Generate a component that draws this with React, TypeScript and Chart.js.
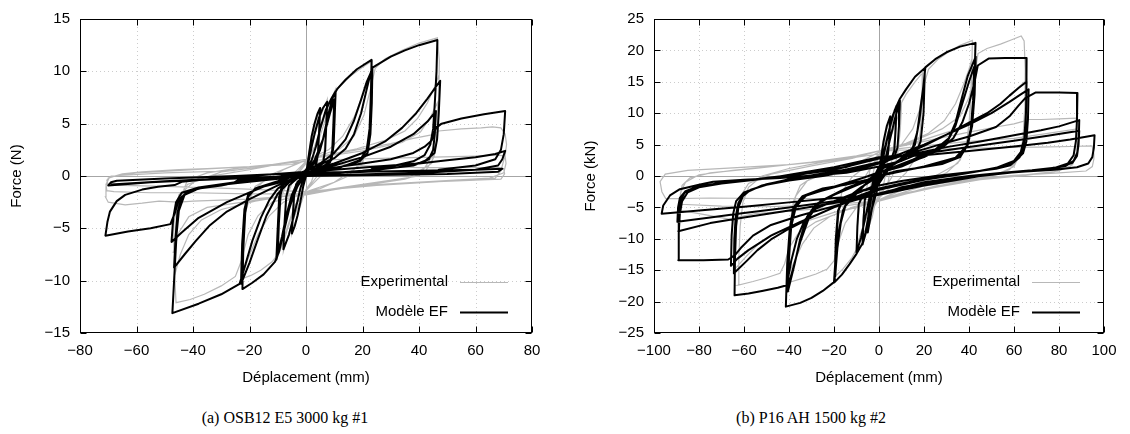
import React, { useEffect, useRef } from "react";
import { Chart, registerables } from "chart.js";

Chart.register(...registerables);

type Pt = [number, number];

const seriesLabels = ["Experimental", "Modèle EF"];
const captions = ["(a) OSB12 E5 3000 kg #1", "(b) P16 AH 1500 kg #2"];
const xTitle = "Déplacement (mm)";
const yTitles = ["Force (N)", "Force (kN)"];

const osbXTicks = [-80, -60, -40, -20, 0, 20, 40, 60, 80];
const osbYTicks = [-15, -10, -5, 0, 5, 10, 15];
const p16XTicks = [-100, -80, -60, -40, -20, 0, 20, 40, 60, 80, 100];
const p16YTicks = [-25, -20, -15, -10, -5, 0, 5, 10, 15, 20, 25];

// (a) OSB12 E5 3000 kg #1 — finite element model
const osbModel: Pt[] = [
  [0, 0], [1, 2], [2, 3.8], [3, 5], [4, 5.9], [5, 6.5],
  [4.6, 4], [4.2, 2], [3.5, 1], [1.5, 0.4], [0, 0],
  [-1, -1], [-2, -2.5], [-3, -3.8], [-4, -4.8], [-5, -5.5],
  [-4.6, -3.5], [-4.2, -1.8], [-3.5, -0.8], [-1.5, -0.1], [0, 0.4],
  [1, 1.5], [2, 2.8], [3, 4], [4.5, 5.5], [6, 6.5], [7.5, 7.1],
  [7.2, 5], [6.8, 2.5], [6, 1.2], [3, 0.6], [0, 0.3], [-1, -0.3], [-2, -1.2], [-3, -2.4], [-4.5, -4], [-6, -5.6], [-8, -7],
  [-7.6, -4.5], [-7, -2], [-6, -0.9], [-3, -0.2], [0, 0.6],
  [2, 1.5], [3.5, 2.8], [5, 4.5], [7, 6.3], [9, 7.4], [10.5, 8.1],
  [10.2, 6], [9.8, 3], [9, 1.5], [6, 0.9], [2, 0.5], [0, 0.2], [-2, -0.4], [-4, -1.5], [-6, -3.2], [-8, -5.5], [-10.5, -8],
  [-10, -5], [-9.5, -2], [-8.5, -0.9], [-5, -0.3], [0, 0.5],
  [3, 1.2], [5, 2.5], [7, 4.5], [8.5, 6], [10, 7.3],
  [9.7, 5], [9.3, 2.5], [8.5, 1.3], [5, 0.8], [0, 0.3], [-3, -0.6], [-5, -1.8], [-7, -3.8], [-8.5, -5.8], [-10, -7.4],
  [-9.6, -4.5], [-9, -1.8], [-8, -0.8], [-4, -0.2], [0, 0.5],
  [3, 1.5], [6, 3.5], [8, 6], [9.5, 7.5], [11, 8.3], [14, 9.2], [18, 10.2], [23.2, 11.1],
  [23, 8], [22.5, 4.5], [21.5, 2.5], [19, 1.5], [12, 0.8], [5, 0.5], [0, 0.3],
  [-3, -1], [-6, -3], [-8, -5.5], [-9.5, -7.2], [-11, -8.2], [-15, -9.4], [-19, -10.2], [-22.5, -10.8],
  [-22.2, -7], [-21.5, -3.5], [-20.5, -2], [-18, -1.2], [-10, -0.5], [0, 0.5],
  [5, 1.2], [10, 2.2], [14, 3.5], [17, 5.3], [19.5, 7.3], [21.5, 9], [23.5, 10.2],
  [23.3, 7], [22.8, 4], [21.8, 2.2], [19, 1.4], [10, 0.7], [0, 0.3], [-6, -0.6], [-10, -1.7], [-14, -3.8], [-17, -6], [-20, -8.3], [-23, -10.3],
  [-22.6, -6.5], [-21.8, -3.2], [-20.5, -1.8], [-17, -1.1], [-8, -0.4], [0, 0.5],
  [5, 1.1], [10, 1.7], [14, 2.6], [17, 4], [19.5, 6], [21.5, 8.3], [23.3, 10.3], [25, 10.6], [30, 11.4], [35, 12], [40, 12.5], [46.5, 13],
  [46.2, 10], [45.6, 7], [45, 4.5], [44, 3], [42, 2], [38, 1.4], [30, 0.9], [24, 0.8], [22, 0.4], [10, 0.3], [0, 0.2],
  [-5, -0.3], [-10, -1.2], [-13, -2.3], [-16, -4], [-19, -6.2], [-21.5, -8.5], [-23.5, -10.3], [-30, -11.3], [-38, -12.2], [-47.3, -13.1],
  [-46.5, -9], [-45.8, -5.5], [-45, -3.3], [-43, -1.8], [-38, -1.2], [-30, -0.9], [-26, -0.7], [-24, -0.4], [-10, -0.1], [0, 0.3],
  [5, 0.8], [10, 1.2], [20, 2.2], [28, 3.3], [34, 4.6], [39, 6], [43, 7.4], [47.5, 9.1],
  [47, 6], [46.4, 3.5], [45.5, 2.2], [42, 1.4], [35, 0.9], [20, 0.5], [0, 0.1],
  [-10, -0.9], [-20, -2.2], [-28, -3.4], [-34, -4.7], [-39, -6.2], [-43, -7.5], [-46.7, -8.75],
  [-46.2, -6], [-45.5, -3.5], [-44, -2], [-40, -1.3], [-30, -0.8], [-15, -0.3], [0, 0.3],
  [10, 1], [20, 1.8], [30, 2.8], [38, 4], [43, 5.2], [46, 6.2],
  [45.6, 4], [45, 2.5], [43.5, 1.6], [38, 1], [25, 0.6], [0, 0], [-15, -1], [-28, -2.5], [-38, -4], [-44, -5.4], [-47.6, -6.3],
  [-47, -4], [-46, -2.5], [-44, -1.6], [-38, -1.1], [-25, -0.6], [0, 0.3],
  [10, 0.8], [20, 1.2], [30, 1.6], [38, 2.2], [42, 2.8], [44.5, 3.4], [46, 4.6], [48, 5], [55, 5.5], [63, 5.9], [70.5, 6.2],
  [70, 4], [69, 2.5], [67, 1.6], [60, 1], [50, 0.7], [47, 0.6], [45, 0.2], [25, 0.1], [0, 0],
  [-15, -0.4], [-25, -0.7], [-35, -1], [-42, -1.5], [-45, -2.3], [-46.5, -3.6], [-48, -4.6], [-55, -5], [-63, -5.3], [-71, -5.7],
  [-70.3, -4.4], [-69.4, -3.4], [-67, -2.4], [-64, -1.8], [-58, -1.3], [-52.4, -1.03], [-46.5, -0.87], [-44, -0.56], [-35, -0.3], [-20, 0], [0, 0.4],
  [10, 0.6], [25, 0.9], [40, 1.2], [50, 1.5], [60, 1.8], [67, 2.1], [70.5, 2.4],
  [69.5, 1.6], [68, 1], [60, 0.6], [45, 0.35], [25, 0.2], [0, 0], [-20, -0.2], [-40, -0.4], [-55, -0.6], [-70, -0.9],
  [-69, -0.6], [-67, -0.45], [-50, -0.25], [-25, 0], [0, 0.3],
  [20, 0.4], [40, 0.5], [60, 0.6], [69.5, 0.7], [68, 0.4], [50, 0.2], [25, 0.1], [0, 0], [-25, -0.2], [-50, -0.5], [-69, -0.8],
];

// (a) OSB12 E5 3000 kg #1 — experimental
const osbExperimental: Pt[] = [
  [0, 0], [1, 2.2], [2, 3.6], [3.5, 5.3], [5, 6.3],
  [4.6, 3.5], [3.8, 1], [2, -0.5], [0, -1.3], [-1, -2], [-2.5, -3.3], [-4, -4.6], [-5, -5.5],
  [-4.6, -3.3], [-3.8, -1], [-2, 0.5], [0, 1.2], [1.5, 2.4], [3, 3.8], [5, 5.6], [7.5, 7.3],
  [7.1, 4.5], [6.3, 2], [4, 0], [0, -1.4], [-2, -2.3], [-4, -3.8], [-6, -5.4], [-8, -7.2],
  [-7.6, -4.5], [-6.8, -2], [-4, 0], [0, 1.4], [3, 2.8], [5.5, 4.8], [8, 6.8], [10.5, 8.3],
  [10.1, 5.2], [9.2, 2.4], [6, 0.2], [0, -1.4], [-3, -2.5], [-5.5, -4.2], [-8, -6.3], [-10.5, -8],
  [-10.1, -5], [-9.2, -2.3], [-6, -0.2], [0, 1.4],
  [4, 3], [7, 5.5], [9.5, 7.6], [12, 8.6], [16, 9.6], [20, 10.4], [23.5, 11],
  [23.2, 7.5], [22.6, 4.2], [21, 1.8], [15, 0], [5, -1.2], [0, -1.5], [-4, -2.8], [-7, -5.2], [-9.5, -7.3], [-12, -8.2], [-16, -9], [-19.5, -9.5], [-22.5, -9.8],
  [-22.2, -6.2], [-21.5, -3.6], [-19.5, -1.6], [-12, 0.2], [0, 1.5],
  [8, 2.5], [13, 3.8], [17, 5.6], [20.5, 8], [23.5, 10.3],
  [23.1, 6.8], [22.2, 3.6], [20, 1.2], [10, -0.6], [0, -1.5], [-8, -2.5], [-13, -3.8], [-17, -5.6], [-20.5, -7.9], [-23, -10],
  [-22.6, -6.3], [-21.6, -3.4], [-18, -1], [-8, 0.6], [0, 1.5],
  [12, 2.6], [17, 3.8], [20.5, 5.8], [23, 8.5], [24.5, 10.3], [28, 11.2], [34, 12], [40, 12.7], [46.5, 13.2],
  [47.2, 11], [47, 7.5], [46.6, 4.2], [45.3, 1.8], [42, 0.3], [35, -0.3], [25, -0.7], [12, -1.2], [0, -1.7],
  [-12, -2.5], [-17, -3.8], [-20.5, -5.6], [-23, -8.2], [-25, -9.6], [-30, -10.5], [-36, -11.3], [-41, -11.8], [-46, -12.1],
  [-46.5, -9.5], [-46.2, -6], [-45, -2.6], [-42, -0.4], [-35, 0.3], [-25, 0.7], [-12, 1.1], [0, 1.6],
  [18, 2.6], [28, 3.4], [35, 4.3], [39.5, 5.5], [43, 7], [45.5, 8.5], [47, 9.6],
  [47, 6.8], [46.5, 3.6], [44.5, 1.2], [36, -0.2], [20, -0.8], [0, -1.6],
  [-18, -2.4], [-30, -3.2], [-37, -4.2], [-41.5, -5.6], [-44.5, -7.5], [-46.5, -9.5],
  [-46.5, -6.6], [-45.6, -3.5], [-42, -0.8], [-30, 0.4], [-15, 0.9], [0, 1.6],
  [20, 2.4], [34, 3.2], [40.5, 4.2], [44, 5.6], [46.5, 7],
  [46.7, 4.6], [45.5, 2.2], [40, 0], [20, -0.8], [0, -1.6],
  [-20, -2.4], [-35, -3], [-41.5, -3.9], [-45, -5.4], [-47, -7.3],
  [-46.8, -4.6], [-45, -1.8], [-38, -0.2], [-20, 0.6], [0, 1.6],
  [10, 2.1], [20, 2.6], [30, 3.1], [38, 3.6], [44, 3.9], [47, 4.3], [55, 4.5], [62, 4.6], [66, 4.7], [69, 4.6],
  [70.5, 4], [71, 3], [70.5, 2], [69, 0.5], [67, -0.2], [60, -0.4], [40, -0.6], [20, -0.9], [10, -1.3], [0, -1.8],
  [-10, -2], [-20, -2.2], [-30, -2.3], [-40, -2.4], [-45, -2.5], [-52, -2.4], [-58, -2.6], [-64, -2.75], [-70, -2.5],
  [-71, -2], [-70.8, -1], [-70, -0.2], [-65, 0.2], [-58, 0.4], [-45, 0.6], [-35, 0.7], [-20, 0.9], [-5, 1.1], [0, 1.5],
  [15, 1.6], [30, 1.7], [45, 1.8], [60, 1.9], [68, 2], [70.5, 1.9],
  [70.8, 1.2], [70, 0.3], [65, -0.2], [45, -0.5], [20, -0.9], [0, -1.7],
  [-20, -1.7], [-40, -1.6], [-55, -1.6], [-68, -1.5], [-70.5, -1.4],
  [-70.8, -0.8], [-69.5, -0.1], [-60, 0.3], [-40, 0.6], [-20, 0.9], [0, 1.4],
  [20, 1], [40, 0.8], [60, 0.8], [68, 0.8], [70, 0.7],
  [70.3, 0.2], [69, -0.3], [50, -0.5], [25, -0.9], [0, -1.5],
  [-25, -1.2], [-50, -1], [-65, -0.9], [-70, -0.9], [-70.5, -0.4], [-69, 0], [-50, 0.3], [-25, 0.5],
];

// (b) P16 AH 1500 kg #2 — finite element model
const p16Model: Pt[] = [
  [0, 0], [1, 3], [2, 5.5], [3.5, 8], [5, 9.5],
  [4.6, 6], [4, 3.5], [2.5, 2.5], [0, 1.5], [-1, 0], [-2, -2.5], [-3.5, -6], [-5, -9],
  [-4.6, -5.5], [-4, -3], [-2.5, -2.2], [0, -1],
  [1, 1.5], [2.5, 4], [4, 6.5], [6, 9.5], [7.8, 11.2],
  [7.4, 7.5], [6.8, 4], [5.5, 2.8], [2, 2], [0, 1.5], [-1.5, 0], [-3, -2.5], [-4.5, -6], [-6, -9], [-7.3, -10.9],
  [-6.9, -7], [-6.3, -3.8], [-5, -2.8], [-2, -2.2], [0, -1.2],
  [1.5, 1], [3, 3], [5, 6], [7, 9], [9.3, 12],
  [8.9, 8], [8.2, 4.5], [7, 3.2], [3, 2.3], [0, 1.5], [-2, 0], [-4, -3], [-6, -6.5], [-8, -9.8], [-10, -12.2],
  [-9.6, -8], [-9, -4.5], [-7.5, -3.3], [-3, -2.4], [0, -1.2],
  [1, 2.5], [3, 5], [5, 8], [7, 10.5], [9.3, 12.3], [12, 13.8], [16, 15.8], [20.4, 17.2],
  [19.8, 10], [18.5, 5.5], [16, 3.3], [10, 2.4], [3, 1.8], [0, 1], [-1, -2.5], [-3, -5], [-5, -8], [-7, -10.5], [-10, -12.4], [-13, -14], [-16.5, -15.7], [-19.7, -16.9],
  [-19.2, -10], [-18.2, -5.5], [-16, -3.6], [-10, -2.6], [-3, -2], [0, -1.2],
  [3, 1], [10, 2.8], [15, 4.5], [17, 7], [18.5, 11], [19.8, 14.5], [20.3, 16.3],
  [19.8, 10], [18.5, 5.5], [16, 3.3], [10, 2.4], [0, 1], [-10, -2.8], [-15, -4.8], [-17, -7.5], [-18.5, -11.5], [-19.5, -16],
  [-19, -10], [-18, -5.5], [-16, -3.6], [-8, -2.5], [0, -1.2],
  [5, 1.5], [12, 3], [16, 5], [18, 9], [19.5, 13.5], [20.6, 17.3], [25, 18.6], [30, 19.7], [36, 20.6], [42.9, 21.2],
  [42.3, 14], [41.3, 8.5], [39.5, 5], [36, 3], [28, 1.9], [18, 1.3], [8, 0.8], [0, 0],
  [-8, -1.8], [-13, -3.2], [-16, -5.5], [-18, -9], [-19.3, -13], [-20, -16.9], [-25, -18.3], [-30, -19.4], [-35, -20.2], [-41.4, -20.8],
  [-40.8, -14], [-39.7, -8.5], [-38, -5], [-34, -3.2], [-25, -2], [-15, -1.4], [-5, -0.6], [0, 0.5],
  [5, 1.2], [15, 2.6], [25, 4.2], [31, 6], [34, 8.5], [36.5, 12], [39.5, 16], [43, 19],
  [42.5, 13], [41.4, 8], [39.5, 5], [35, 3], [25, 1.8], [10, 0.8], [0, 0],
  [-10, -1.5], [-20, -3], [-28, -4.5], [-32, -6.5], [-35, -10], [-37.5, -14], [-40.5, -18.4],
  [-40, -13], [-39, -8], [-37, -5], [-33, -3.2], [-20, -1.7], [0, 0.5],
  [10, 1.5], [22, 3.4], [30, 5.2], [34, 8], [37, 11.5], [40, 15], [42.3, 17.4],
  [41.8, 12], [40.8, 7.5], [39, 4.8], [34, 2.9], [20, 1.5], [0, 0],
  [-15, -2], [-26, -4], [-31, -6.5], [-35, -10.5], [-38, -14.5], [-40.5, -17.7],
  [-40, -12.5], [-39, -7.5], [-37, -4.8], [-32, -3], [-15, -1.3], [0, 0.6],
  [10, 1.8], [20, 3], [28, 4.5], [33, 6], [37, 8.5], [40, 11.5], [42.5, 15], [43.9, 17.6], [48.7, 18.7], [56, 18.8], [65.6, 18.8],
  [65.5, 13], [65.2, 8], [64.3, 4.5], [62.5, 3], [58.4, 1.7], [52, 1.15], [40, 0.6], [25, 0], [10, -0.8], [0, -1.5],
  [-10, -2.6], [-20, -4], [-28, -5.2], [-33, -7], [-36.5, -10], [-39, -13.5], [-41, -17.4], [-45, -17.8], [-52, -18.3], [-58, -18.7], [-64.2, -19],
  [-64, -13], [-63.5, -8], [-62.5, -5], [-60.5, -3.2], [-57, -2.2], [-50, -1.4], [-40, -0.7], [-25, 0], [-10, 1], [0, 2],
  [10, 3.2], [20, 4.8], [30, 6.6], [40, 8.5], [48, 10], [54, 11.5], [58, 12.8], [62, 14], [65.6, 15],
  [65.3, 10], [64.6, 6], [63, 3.8], [60, 2.4], [52, 1.3], [40, 0.5], [25, -0.2], [10, -1.2], [0, -2],
  [-10, -3.3], [-20, -5], [-30, -6.6], [-40, -8.4], [-48, -10.1], [-54, -11.8], [-59, -13.6], [-64.5, -15.5],
  [-64.3, -10], [-63.7, -6.5], [-62.5, -4.3], [-60, -2.8], [-52, -1.5], [-40, -0.5], [-25, 0.3], [-10, 1.3], [0, 2.2],
  [10, 3.6], [20, 5], [30, 6.6], [40, 8.2], [50, 10], [58, 11.8], [63, 13], [66.5, 13.8],
  [66.2, 9], [65.5, 5.5], [64, 3.6], [60, 2.2], [50, 1.1], [35, 0.2], [20, -0.6], [0, -2.2],
  [-20, -5], [-35, -7.3], [-48, -9.5], [-58, -11.8], [-63, -13.2], [-65.8, -14.3],
  [-65.5, -9.5], [-64.8, -6], [-63.5, -4], [-60, -2.6], [-50, -1.3], [-35, -0.2], [-15, 1], [0, 2.2],
  [10, 3.2], [25, 4.8], [40, 6.3], [52, 7.8], [58, 9.5], [62, 11.2], [65, 12.4], [69.7, 13.3], [80, 13.3], [88.2, 13.2],
  [88, 9], [87.5, 5.5], [86.5, 3.3], [84, 2], [78, 1.3], [68, 0.9], [55, 0.5], [40, 0], [20, -1], [0, -2.8],
  [-20, -4.8], [-35, -6.3], [-48, -7.8], [-56, -9.5], [-61, -11.3], [-64, -12.6], [-67, -13.3], [-78, -13.4], [-89.2, -13.4],
  [-89, -9], [-88.5, -6], [-87.5, -4], [-85, -2.6], [-80, -1.8], [-70, -1.2], [-55, -0.6], [-40, 0], [-20, 1], [0, 2.8],
  [15, 3.5], [30, 4.6], [45, 5.5], [60, 6.5], [72, 7.3], [80, 7.9], [89, 8.9],
  [88.8, 6], [88.2, 3.8], [86.5, 2.4], [83, 1.6], [75, 1.1], [60, 0.6], [40, -0.2], [20, -1.4], [0, -3],
  [-20, -4.3], [-40, -5.5], [-60, -6.6], [-75, -7.5], [-89.2, -8.8],
  [-89, -6], [-88.3, -4], [-86.5, -2.7], [-82, -1.8], [-72, -1.2], [-55, -0.5], [-35, 0.3], [-15, 1.4], [0, 3],
  [20, 3.6], [40, 4.6], [60, 5.6], [75, 6.4], [89, 7.2],
  [88.7, 5], [88, 3.2], [86, 2.1], [80, 1.4], [65, 0.8], [45, 0], [20, -1.5], [0, -3],
  [-20, -4], [-40, -5], [-60, -5.9], [-75, -6.6], [-89.6, -7.3],
  [-89.3, -5], [-88.5, -3.5], [-86, -2.4], [-80, -1.6], [-65, -1], [-45, -0.1], [-20, 1.4], [0, 3],
  [20, 3.3], [40, 4], [60, 4.7], [75, 5.3], [85, 5.8], [95.8, 6.5],
  [95.5, 4.5], [94.8, 3], [93, 2], [88, 1.4], [78, 1], [65, 0.7], [50, 0.3], [30, -0.5], [10, -1.8], [0, -3],
  [-20, -3.5], [-40, -4.2], [-60, -4.9], [-80, -5.5], [-96.6, -6],
  [-95.9, -4.7], [-92.9, -3.1], [-88.5, -2.1], [-80, -1.4], [-73.7, -0.9], [-60, -0.6], [-44, -0.3], [-25, 0.2], [-14.5, 0.5], [0, 1.5],
];

// (b) P16 AH 1500 kg #2 — experimental
const p16Experimental: Pt[] = [
  [0, 0], [1.5, 4], [3, 7], [5, 9],
  [4.6, 5.5], [3.8, 2], [2, -1.5], [0, -3], [-1.5, -4], [-3, -6.5], [-5, -8.5],
  [-4.6, -5], [-3.8, -1.8], [-2, 1.5], [0, 3], [2, 4.5], [4, 7], [6, 9], [7.5, 10.5],
  [7, 6.5], [6, 3], [4, -1], [0, -3.2], [-2, -4.2], [-4, -6.5], [-6, -9], [-7.5, -10.5],
  [-7, -6.5], [-6, -3], [-4, 1], [0, 3.2], [3, 4.5], [6, 7], [8.5, 9.5], [10, 11.5],
  [9.5, 7.5], [8.5, 4], [6, 0], [0, -3.4], [-3, -4.8], [-6, -7], [-8.5, -9.5], [-10, -11.5],
  [-9.5, -7.5], [-8.5, -4], [-6, 0], [0, 3.4],
  [3, 5.5], [6, 8.5], [9, 11], [12, 13], [16, 15], [19.5, 16.5],
  [19.2, 12], [18.3, 7], [16.5, 3], [12, 0.5], [6, -1.5], [0, -3.5], [-3, -5.5], [-6, -8.5], [-9, -11], [-12, -13], [-16, -14.8], [-19.5, -16],
  [-19.2, -11.5], [-18.3, -6.5], [-16.5, -2.5], [-12, -0.2], [-6, 1.5], [0, 3.5],
  [10, 5], [15, 7.5], [18, 10.5], [20, 14.5], [22, 17], [26, 18.5], [31, 19.8], [36, 20.8], [41.5, 21.6],
  [41.2, 16], [40.5, 10], [39, 5.5], [36, 2.5], [30, 0.5], [20, -1], [10, -2.3], [0, -3.8],
  [-10, -5], [-15, -7.5], [-18, -10.5], [-20, -13.5], [-23, -14.8], [-28, -15.6], [-34, -16.3], [-40.5, -17],
  [-40.2, -12], [-39.5, -7.5], [-38, -4], [-35, -1.5], [-28, 0.2], [-18, 1.2], [-8, 2.3], [0, 3.8],
  [12, 5.2], [22, 6.8], [29, 8.8], [34, 11.5], [37.5, 14.5], [40, 17], [41.2, 18.5],
  [40.8, 13], [40, 8], [38.5, 4.5], [35, 2], [25, 0], [12, -1.8], [0, -3.8],
  [-12, -5], [-22, -6.5], [-29, -8.3], [-34, -10.8], [-37.5, -13.5], [-40, -15.5],
  [-39.7, -11], [-39, -6.5], [-37, -3.2], [-32, -0.8], [-22, 0.8], [-10, 2], [0, 3.8],
  [15, 5.5], [28, 7.5], [36, 9.5], [40, 12.5], [42.5, 16], [44, 19.5], [48, 20.3], [54, 21], [59, 21.7], [63.2, 22.3],
  [64.5, 21.5], [65, 17], [64.8, 11], [64, 6], [62.5, 3], [58, 1], [50, 0], [40, -0.7], [25, -1.8], [10, -3], [0, -4],
  [-15, -5.5], [-28, -7.3], [-36, -9.2], [-40, -11.5], [-42, -14], [-44, -15.5], [-50, -16.2], [-56, -16.8], [-62.6, -17.4],
  [-62.3, -13], [-61.7, -8], [-60.5, -4.2], [-58, -1.8], [-52, 0], [-40, 1.2], [-25, 2.2], [-10, 3], [0, 4],
  [20, 5.8], [35, 7.5], [47, 9.5], [54, 11.5], [59, 13], [62.5, 14.3], [65.6, 15.3],
  [65.3, 11], [64.6, 7], [63, 3.8], [60, 1.5], [52, 0.2], [40, -0.6], [20, -2], [0, -4],
  [-20, -5.8], [-35, -7.5], [-47, -9.2], [-54, -11], [-59, -12.8], [-62.5, -14.2], [-64.5, -15],
  [-64.2, -10.5], [-63.5, -6.5], [-62, -3.5], [-58, -1.2], [-48, 0.3], [-30, 1.6], [-12, 2.8], [0, 4],
  [20, 5.5], [40, 7], [52, 7.8], [60, 8.3], [64, 8.7], [66, 9], [72, 9], [80, 9.1], [87.5, 9.2],
  [88.4, 7.5], [88.3, 5], [87.5, 3], [85, 1.5], [78, 0.7], [65, 0.1], [45, -0.6], [25, -1.8], [10, -2.8], [0, -4],
  [-20, -5], [-40, -5.6], [-55, -6], [-62, -6.5], [-65, -7], [-72, -6.5], [-80, -6], [-88, -5.5],
  [-88.5, -4], [-88, -2.5], [-86, -1], [-80, 0.2], [-65, 0.9], [-45, 1.6], [-25, 2.4], [-10, 3.2], [0, 4],
  [20, 4.8], [40, 5.5], [60, 6], [75, 6.8], [88, 7.5],
  [88.2, 5.5], [87.8, 3.5], [86, 1.8], [80, 0.8], [65, 0.2], [45, -0.5], [25, -1.6], [0, -4],
  [-25, -4.6], [-50, -4.9], [-70, -4.8], [-88, -4.5],
  [-88.3, -3], [-87.5, -1.5], [-84, -0.3], [-75, 0.5], [-55, 1.2], [-30, 2.2], [-10, 3.2], [0, 4],
  [25, 4.3], [50, 4.5], [70, 4.6], [85, 4.7], [94.7, 4.8],
  [95.5, 3.5], [95.5, 2.7], [94.8, 1.5], [92, 0.8], [80, 0.5], [60, 0.1], [40, -0.5], [20, -1.6], [0, -3.8],
  [-25, -3.6], [-50, -3.6], [-75, -3.5], [-90, -3.6], [-94.8, -3.6],
  [-96.5, -2.5], [-97.3, -0.9], [-95, 0.3], [-85, 0.9], [-65, 1.3], [-40, 1.8], [-20, 2.5], [0, 3.5],
];

const FONT = "'Liberation Sans', Arial, Helvetica, sans-serif";
const LEGEND_COLORS = ["#b8b8b8", "#000000"];
const LEGEND_WIDTHS = [1.2, 2];

const minusLabel = (v: number) => (v < 0 ? "\u2212" + Math.abs(v) : String(v));

const gnuplotPlugin = {
  id: "gnuplot",
  beforeDatasetsDraw(chart: any, _args: any, opts: any) {
    const { ctx, chartArea: a } = chart;
    const xs = chart.scales.x;
    const ys = chart.scales.y;
    ctx.save();
    ctx.lineWidth = 1;
    ctx.strokeStyle = "#cccccc";
    ctx.setLineDash([1, 3]);
    ctx.beginPath();
    for (const v of opts.xTicks) {
      if (v === xs.min || v === xs.max || v === 0) continue;
      const p = Math.round(xs.getPixelForValue(v)) + 0.5;
      ctx.moveTo(p, a.top);
      ctx.lineTo(p, a.bottom);
    }
    for (const v of opts.yTicks) {
      if (v === ys.min || v === ys.max || v === 0) continue;
      const p = Math.round(ys.getPixelForValue(v)) + 0.5;
      ctx.moveTo(a.left, p);
      ctx.lineTo(a.right, p);
    }
    ctx.stroke();
    ctx.setLineDash([]);
    ctx.strokeStyle = "#a6a6a6";
    ctx.beginPath();
    const x0 = Math.round(xs.getPixelForValue(0)) + 0.5;
    const y0 = Math.round(ys.getPixelForValue(0)) + 0.5;
    ctx.moveTo(x0, a.top);
    ctx.lineTo(x0, a.bottom);
    ctx.moveTo(a.left, y0);
    ctx.lineTo(a.right, y0);
    ctx.stroke();
    ctx.restore();
  },
  afterDatasetsDraw(chart: any, _args: any, opts: any) {
    const { ctx, chartArea: a } = chart;
    const xs = chart.scales.x;
    const ys = chart.scales.y;
    ctx.save();
    ctx.strokeStyle = "#000";
    ctx.lineWidth = 1;
    const L = Math.round(a.left) + 0.5;
    const R = Math.round(a.right) - 0.5;
    const T = Math.round(a.top) + 0.5;
    const B = Math.round(a.bottom) - 0.5;
    ctx.strokeRect(L, T, R - L, B - T);
    ctx.beginPath();
    const tl = 6;
    for (const v of opts.xTicks) {
      const p = Math.round(xs.getPixelForValue(v)) + 0.5;
      ctx.moveTo(p, B);
      ctx.lineTo(p, B - tl);
      ctx.moveTo(p, T);
      ctx.lineTo(p, T + tl);
    }
    for (const v of opts.yTicks) {
      const p = Math.round(ys.getPixelForValue(v)) + 0.5;
      ctx.moveTo(L, p);
      ctx.lineTo(L + tl, p);
      ctx.moveTo(R, p);
      ctx.lineTo(R - tl, p);
    }
    ctx.stroke();
    // legend (bottom-right, inside)
    ctx.font = `15px ${FONT}`;
    ctx.textAlign = "right";
    ctx.textBaseline = "middle";
    ctx.fillStyle = "#000";
    opts.labels.forEach((lab: string, i: number) => {
      const y = a.bottom - 51 + i * 30;
      ctx.fillText(lab, a.right - 84, y);
      ctx.beginPath();
      ctx.strokeStyle = LEGEND_COLORS[i];
      ctx.lineWidth = LEGEND_WIDTHS[i];
      ctx.moveTo(a.right - 72, y + 0.5);
      ctx.lineTo(a.right - 24, y + 0.5);
      ctx.stroke();
    });
    ctx.restore();
  },
};

type ChartProps = {
  exp: Pt[];
  model: Pt[];
  xTicks: number[];
  yTicks: number[];
  yTitle: string;
  left: number;
  width: number;
  axisWidth: number;
  rightPad: number;
  titlePad: number;
};

function HysteresisChart(p: ChartProps) {
  const ref = useRef<HTMLCanvasElement>(null);
  useEffect(() => {
    if (!ref.current) return;
    const tickFont = { family: FONT, size: 15 };
    const chart = new Chart(ref.current, {
      type: "scatter",
      data: {
        datasets: [
          {
            label: seriesLabels[0],
            data: p.exp.map(([x, y]) => ({ x, y })),
            showLine: true,
            borderColor: LEGEND_COLORS[0],
            borderWidth: LEGEND_WIDTHS[0],
            pointRadius: 0,
            tension: 0,
            order: 2,
          },
          {
            label: seriesLabels[1],
            data: p.model.map(([x, y]) => ({ x, y })),
            showLine: true,
            borderColor: LEGEND_COLORS[1],
            borderWidth: LEGEND_WIDTHS[1],
            pointRadius: 0,
            tension: 0,
            borderJoinStyle: "round",
            order: 1,
          },
        ],
      },
      options: {
        animation: false,
        responsive: false,
        devicePixelRatio: 1,
        events: [],
        layout: { padding: { top: 15, right: p.rightPad, left: 0, bottom: 0 } },
        plugins: {
          legend: { display: false },
          tooltip: { enabled: false },
          gnuplot: { xTicks: p.xTicks, yTicks: p.yTicks, labels: seriesLabels },
        } as any,
        scales: {
          x: {
            type: "linear",
            min: p.xTicks[0],
            max: p.xTicks[p.xTicks.length - 1],
            afterBuildTicks: (s: any) => {
              s.ticks = p.xTicks.map((v) => ({ value: v }));
            },
            afterFit: (s: any) => {
              s.height = 67;
            },
            ticks: { font: tickFont, color: "#000", padding: 9, maxRotation: 0, autoSkip: false, callback: (v: any) => minusLabel(Number(v)) },
            grid: { display: false, drawTicks: false },
            border: { display: false },
            title: { display: true, text: xTitle, font: tickFont, color: "#000", padding: { top: 0, bottom: 13 } },
          },
          y: {
            type: "linear",
            min: p.yTicks[0],
            max: p.yTicks[p.yTicks.length - 1],
            afterBuildTicks: (s: any) => {
              s.ticks = p.yTicks.map((v) => ({ value: v }));
            },
            afterFit: (s: any) => {
              s.width = p.axisWidth;
            },
            ticks: { font: tickFont, color: "#000", padding: 10, autoSkip: false, callback: (v: any) => minusLabel(Number(v)) },
            grid: { display: false, drawTicks: false },
            border: { display: false },
            title: { display: true, text: p.yTitle, font: tickFont, color: "#000", padding: { top: p.titlePad, bottom: 0 } },
          },
        },
      } as any,
      plugins: [gnuplotPlugin as any],
    });
    return () => chart.destroy();
  }, []);
  return (
    <canvas
      ref={ref}
      width={p.width}
      height={400}
      style={{ position: "absolute", left: p.left, top: 0, width: p.width, height: 400 }}
    />
  );
}

export default function App() {
  const capStyle: React.CSSProperties = {
    position: "absolute",
    top: 406,
    width: 400,
    textAlign: "center",
    fontFamily: "'Liberation Serif', 'Times New Roman', serif",
    fontSize: 16,
    lineHeight: "24px",
    color: "#000",
    whiteSpace: "nowrap",
  };
  return (
    <div style={{ position: "absolute", left: 0, top: 0, width: 1130, height: 434, background: "#fff", overflow: "hidden" }}>
      <HysteresisChart
        exp={osbExperimental}
        model={osbModel}
        xTicks={osbXTicks}
        yTicks={osbYTicks}
        yTitle={yTitles[0]}
        left={0}
        width={560}
        axisWidth={80}
        rightPad={28}
        titlePad={8}
      />
      <HysteresisChart
        exp={p16Experimental}
        model={p16Model}
        xTicks={p16XTicks}
        yTicks={p16YTicks}
        yTitle={yTitles[1]}
        left={560}
        width={570}
        axisWidth={94}
        rightPad={26}
        titlePad={22}
      />
      <div style={{ ...capStyle, left: 285 - 200 }}>{captions[0]}</div>
      <div style={{ ...capStyle, left: 811 - 200 }}>{captions[1]}</div>
    </div>
  );
}
